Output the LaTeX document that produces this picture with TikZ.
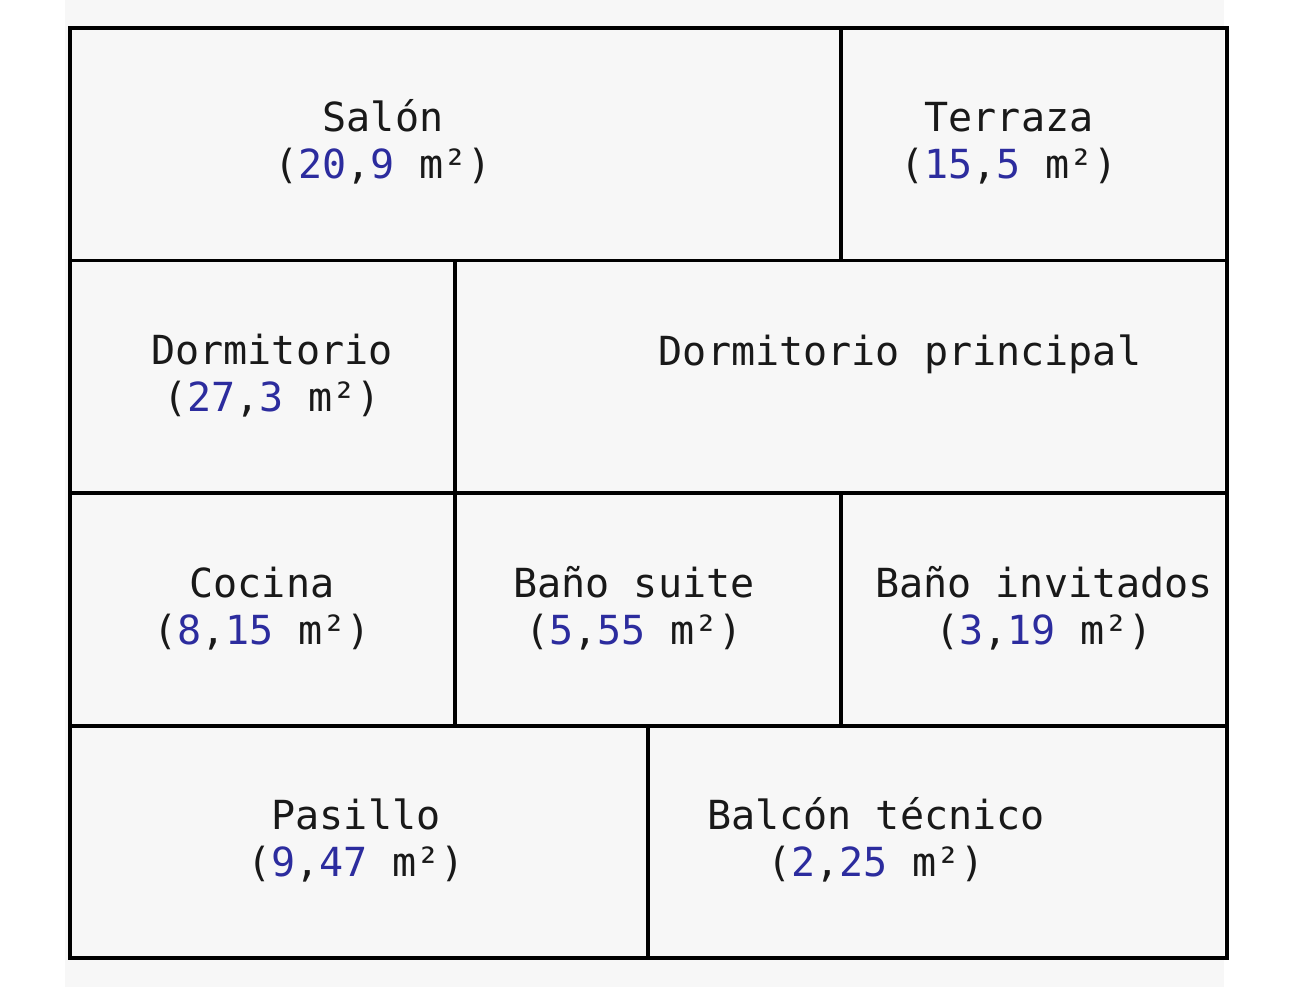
\documentclass[tikz,border=0pt]{standalone}
\usepackage{fontspec}
\setmonofont{DejaVu Sans Mono}
\usetikzlibrary{positioning}
\definecolor{planbg}{HTML}{F7F7F7}
\definecolor{areablue}{RGB}{44,44,158}
\newcommand{\area}[1]{\textcolor{areablue}{#1}}
\tikzset{%
  % Specifications for walls and room labels:
            wall/.style = {draw=black, line width=0.065cm},
            roomlabel/.style = {font=\ttfamily\fontsize{22.8}{26.2}\selectfont,
                                align=center, anchor=base, inner sep=0pt,
                                text=black!90}
}

\begin{document}
\begin{tikzpicture}[x=0.02cm, y=-0.02cm]
                        \useasboundingbox (0,0) rectangle (1290,987);
                        \fill[planbg] (65,0) rectangle (1224,987);
                        % rooms: left/top/right/bottom
                        \foreach\xa/\ya/\xb/\yb in {70/28/841/260.5, 841/28/1227/260.5,
                            70/260.5/455/493, 455/260.5/1227/493,
                            70/493/455/726, 455/493/841/726, 841/493/1227/726,
                            70/726/648/958, 648/726/1227/958}{
                                \draw[wall] (\xa,\ya) rectangle (\xb,\yb);
                        }
                        % labels (base = last line)
                        \node[roomlabel] (salon) at (383,178) {Salón\\(\area{20},\area{9} m²)};
                        \node[roomlabel] (terraza) at (1009,178) {Terraza\\(\area{15},\area{5} m²)};
                        \node[roomlabel] (dormitorio) at (272,411) {Dormitorio\\(\area{27},\area{3} m²)};
                        \node[roomlabel] (principal) at (900,365) {Dormitorio principal};
                        \node[roomlabel] (cocina) at (262,644) {Cocina\\(\area{8},\area{15} m²)};
                        \node[roomlabel] (suite) at (634,644) {Baño suite\\(\area{5},\area{55} m²)};
                        \node[roomlabel] (invitados) at (1044,644) {Baño invitados\\(\area{3},\area{19} m²)};
                        \node[roomlabel] (pasillo) at (356,876) {Pasillo\\(\area{9},\area{47} m²)};
                        \node[roomlabel] (balcon) at (876,876) {Balcón técnico\\(\area{2},\area{25} m²)};
\end{tikzpicture}
\end{document}
